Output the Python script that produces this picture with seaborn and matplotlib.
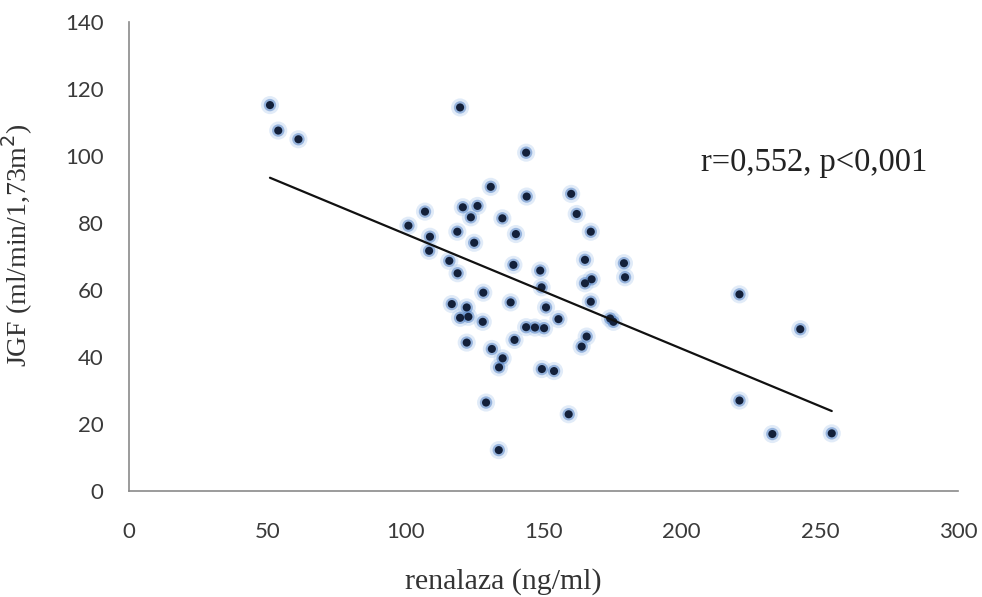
import matplotlib
matplotlib.use("Agg")
import matplotlib.pyplot as plt
import seaborn as sns
import numpy as np
import pandas as pd

renalaza = [51.0, 54.0, 61.3, 101.1, 107.1, 108.9, 108.6, 115.9, 118.9, 118.8,
            119.8, 120.8, 126.1, 123.7, 124.9, 130.9, 135.1, 140.0, 139.1, 143.7,
            143.9, 148.8, 160.0, 162.0, 167.1, 165.0, 179.1, 179.5, 165.0, 167.4,
            149.3, 128.2, 138.1, 167.1, 116.8, 122.2, 150.9, 119.8, 122.8, 128.0,
            155.4, 174.1, 175.3, 143.7, 146.9, 150.2, 165.6, 163.8, 122.2, 139.5,
            131.3, 135.2, 133.9, 149.4, 153.8, 129.2, 159.1, 133.8, 220.9, 242.9,
            220.9, 232.8, 254.3]
jgf = [115.2, 107.6, 105.0, 79.2, 83.4, 75.9, 71.7, 68.7, 65.0, 77.4,
       114.5, 84.7, 85.1, 81.7, 74.1, 90.8, 81.4, 76.7, 67.5, 101.0,
       87.9, 65.8, 88.7, 82.7, 77.4, 69.0, 68.0, 63.8, 62.0, 63.2,
       60.8, 59.2, 56.3, 56.5, 55.8, 54.8, 54.8, 51.7, 52.0, 50.5,
       51.3, 51.5, 50.5, 48.9, 48.8, 48.6, 46.1, 43.1, 44.3, 45.1,
       42.4, 39.6, 36.9, 36.4, 35.8, 26.4, 22.9, 12.2, 58.7, 48.3,
       27.0, 17.0, 17.2]
x_ticks = [0, 50, 100, 150, 200, 250, 300]
y_ticks = [0, 20, 40, 60, 80, 100, 120, 140]
annotation = "r=0,552, p<0,001"
x_label = "renalaza (ng/ml)"
y_label = "JGF (ml/min/1,73m$^2$)"

df = pd.DataFrame({"renalaza": renalaza, "jgf": jgf})

sns.set_theme(style="white")
plt.rcParams["font.family"] = ["Lato", "DejaVu Sans"]

fig = plt.figure(figsize=(9.82, 5.97), dpi=100)
ax = fig.add_axes([0.1314, 0.1776, 0.9756 - 0.1314, 0.9631 - 0.1776])

# glow
sns.scatterplot(data=df, x="renalaza", y="jgf", ax=ax, s=170, color="#a9c8ec",
                alpha=0.35, edgecolor="none", legend=False)
sns.scatterplot(data=df, x="renalaza", y="jgf", ax=ax, s=80, color="#4f7fc4",
                alpha=0.5, edgecolor="none", legend=False)
sns.scatterplot(data=df, x="renalaza", y="jgf", ax=ax, s=34, color="#13203a",
                edgecolor="none", legend=False)
sns.regplot(data=df, x="renalaza", y="jgf", ax=ax, scatter=False, ci=None,
            line_kws={"color": "#111111", "linewidth": 1.6})

ax.set_xlim(0, 300)
ax.set_ylim(0, 140)
ax.set_xticks(x_ticks)
ax.set_yticks(y_ticks)
ax.tick_params(axis="both", which="both", direction="out", length=6.5, width=1,
               color="#8a8a8a", labelsize=16, labelcolor="#3a3a3a")
ax.tick_params(axis="y", pad=12)
ax.tick_params(axis="x", pad=16)
for s in ["top", "right"]:
    ax.spines[s].set_visible(False)
for s in ["left", "bottom"]:
    ax.spines[s].set_color("#8a8a8a")
    ax.spines[s].set_linewidth(1.2)

serif = ["Liberation Serif", "DejaVu Serif"]
ax.set_xlabel(x_label, family=serif, fontsize=21.5, color="#333333")
ax.xaxis.set_label_coords(0.451, -0.165)
ax.set_ylabel(y_label, family=serif, fontsize=20, color="#333333")
ax.yaxis.set_label_coords(-0.113, 0.525)
ax.text(0.690, 0.70, annotation, transform=ax.transAxes, family=serif,
        fontsize=23.5, color="#222222", ha="left", va="center")

fig.savefig("out.png", dpi=100)
